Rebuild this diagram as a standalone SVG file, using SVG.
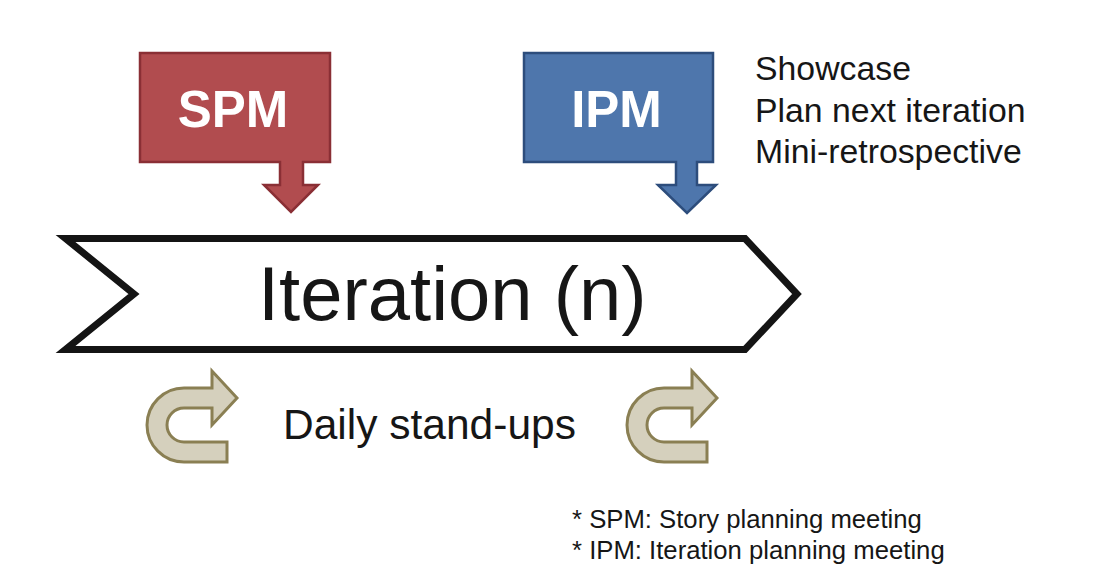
<svg xmlns="http://www.w3.org/2000/svg" width="1101" height="588" viewBox="0 0 1101 588">
<defs>
<style>
.t{font-family:"Liberation Sans",Arial,Helvetica,sans-serif;fill:#161616}
.lbl{font-family:"Liberation Sans",Arial,Helvetica,sans-serif;font-weight:bold;fill:#ffffff;text-anchor:middle}
.loop{fill:#d5d0bd;stroke:#8a7f53;stroke-width:3;stroke-linejoin:miter}
</style>
<path id="uturn" d="M227,442 V462 H184 A37,37 0 0 1 184,388 H212 V371 L237,398 L212,425 V408 H184 A17,17 0 0 0 184,442 Z"/>
</defs>
<rect width="1101" height="588" fill="#ffffff"/>
<g id="iteration">
<path d="M65.5,238.5 H745 L797,294 L745,349.5 H65.5 L134,294 Z" fill="#ffffff" stroke="#141414" stroke-width="7" stroke-linejoin="miter"/>
<text class="t" x="258" y="320" font-size="76">Iteration (n)</text>
</g>
<g id="spm">
<path d="M140,53 H330 V162 H303 V185 H318 L291,212 L264,185 H280 V162 H140 Z" fill="#b14c4f" stroke="#8a2f35" stroke-width="2.5"/>
<text class="lbl" x="233" y="127" font-size="51">SPM</text>
</g>
<g id="ipm">
<path d="M524,53 H713 V162 H697 V185 H716 L687,213 L658,185 H676 V162 H524 Z" fill="#4e76ac" stroke="#2d4d7c" stroke-width="2.5"/>
<text class="lbl" x="616.5" y="127" font-size="51">IPM</text>
</g>
<g id="ipm-notes">
<text class="t" x="755" y="80" font-size="33.8">Showcase</text>
<text class="t" x="755" y="121.5" font-size="33.8">Plan next iteration</text>
<text class="t" x="755" y="163" font-size="33.8">Mini-retrospective</text>
</g>
<g id="standups">
<use href="#uturn" class="loop"/>
<use href="#uturn" class="loop" transform="translate(480,0)"/>
<text class="t" x="283" y="439" font-size="42.5">Daily stand-ups</text>
</g>
<g id="legend">
<text class="t" x="572" y="528" font-size="25.7">* SPM: Story planning meeting</text>
<text class="t" x="572" y="559" font-size="25.7">* IPM: Iteration planning meeting</text>
</g>
<g id="connectors"></g>
</svg>
